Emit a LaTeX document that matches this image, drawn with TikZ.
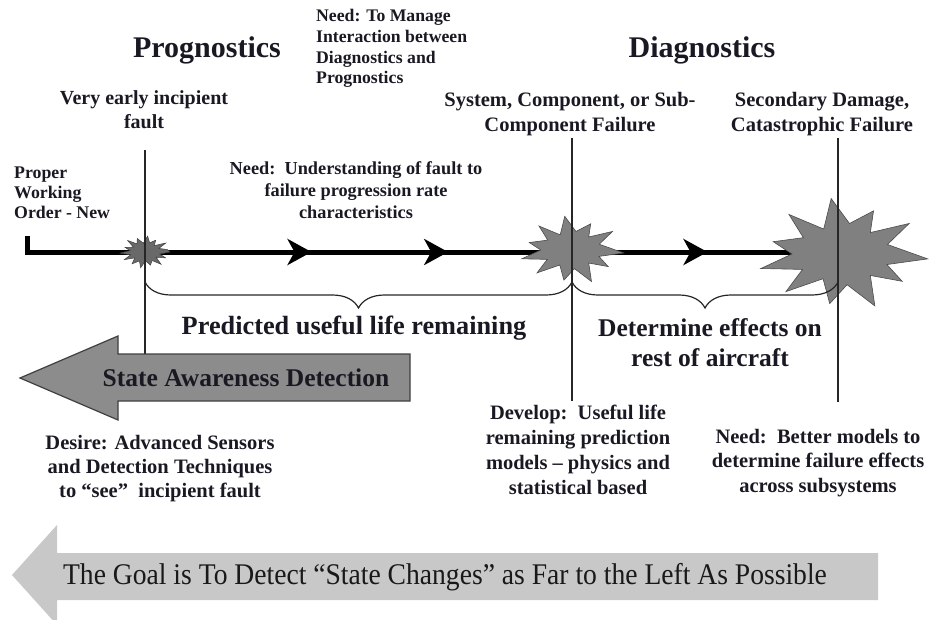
\documentclass[tikz,border=0pt]{standalone}
\usepackage{fontspec}
\setmainfont{Liberation Serif}
\usetikzlibrary{arrows.meta,decorations.pathreplacing,decorations.markings}
\definecolor{stargray}{RGB}{128,128,128}
\definecolor{smallgray}{RGB}{105,105,105}
\definecolor{arrowgray}{RGB}{140,140,140}
\definecolor{goalgray}{RGB}{200,200,200}
\definecolor{txt}{RGB}{25,25,35}
\tikzset{
  burst/.pic={\draw[draw=black!70, line width=0.6pt, fill=stargray, line join=miter]
     (5:1) -- (20:.55) -- (35:.85) -- (50:.5) -- (68:1.0) -- (85:.55) -- (100:.9) -- (118:.5)
     -- (135:.95) -- (150:.55) -- (165:1.0) -- (180:.6) -- (195:.85) -- (212:.55) -- (228:.95)
     -- (243:.5) -- (262:1.0) -- (278:.55) -- (295:.85) -- (310:.5) -- (325:.95) -- (342:.55) -- cycle;},
  spark/.pic={\draw[draw=black!75, line width=0.5pt, fill=smallgray, line join=miter]
     (0:1) -- (12:.6) -- (24:.9) -- (36:.55) -- (50:1.0) -- (62:.6) -- (75:.85) -- (88:.55)
     -- (100:1.0) -- (112:.6) -- (125:.9) -- (138:.55) -- (150:.95) -- (163:.6) -- (176:1.0)
     -- (188:.6) -- (200:.85) -- (213:.55) -- (226:1.0) -- (238:.6) -- (250:.9) -- (263:.55)
     -- (276:1.0) -- (288:.6) -- (300:.85) -- (313:.55) -- (326:1.0) -- (338:.6) -- (350:.9) -- cycle;},
  lbl/.style={font=\bfseries, text=txt, align=center, inner sep=0pt},
  head/.style={lbl, font=\fontsize{30}{34}\selectfont\bfseries},
  mid/.style={lbl, font=\fontsize{25.5}{30}\selectfont\bfseries},
  small/.style={lbl, font=\fontsize{20.5}{24.5}\selectfont\bfseries},
  tiny/.style={lbl, font=\fontsize{17.8}{20.8}\selectfont\bfseries},
  timeline/.style={line width=5pt},
  vline/.style={line width=1.2pt, black!85},
  bracestyle/.style={decorate, decoration={brace, mirror, amplitude=26pt, aspect=0.5}, line width=1.2pt, black!85},
}
\begin{document}
\begin{tikzpicture}[x=1pt,y=-1pt]
\useasboundingbox (0,0) rectangle (933,619);

% key points on the time line
\coordinate (start) at (27,252);
\coordinate (starttop) at (27,236);
\coordinate (s1) at (145,252);
\coordinate (s2) at (572,250);
\coordinate (s3) at (843,254);

% time line
\draw[timeline, line cap=butt] (starttop) -- (start) -- (s1);
\draw[timeline, postaction={decorate}, decoration={markings,
   mark=at position 0.39 with {\arrow{Stealth[length=24pt,width=26pt,inset=7pt]}},
   mark=at position 0.71 with {\arrow{Stealth[length=24pt,width=26pt,inset=7pt]}}}]
   (s1) -- (s2 |- s1);
\draw[timeline, postaction={decorate}, decoration={markings,
   mark=at position 0.5 with {\arrow{Stealth[length=24pt,width=26pt,inset=7pt]}}}]
   (s2 |- s1) -- (s3 |- s1);

% bursts
\pic[xscale=25, yscale=16] at (s1) {spark};
\pic[xscale=52, yscale=34] at (s2) {burst};
\pic[xscale=85, yscale=56] at (s3) {burst};

% vertical lines
\coordinate (v1t) at (145,150); \coordinate (v1b) at (145,360);
\coordinate (v2t) at (572,138); \coordinate (v2b) at (572,401);
\coordinate (v3t) at (838,138); \coordinate (v3b) at (838,402);
\draw[vline] (v1t) -- (v1b);
\draw[vline] (v2t) -- (v2b);
\draw[vline] (v3t) -- (v3b);

% braces
\coordinate (b1a) at (145,282); \coordinate (b1b) at (572,282);
\coordinate (b2a) at (572,282); \coordinate (b2b) at (838,282);
\draw[bracestyle] (b1a) -- (b1b);
\draw[bracestyle] (b2a) -- (b2b);

% state awareness arrow
\draw[draw=black!75, line width=1.2pt, fill=arrowgray, line join=miter]
  (410,354) -- (118,354) -- (118,336) -- (20,378) -- (118,420) -- (118,401) -- (410,401) -- cycle;
\node[mid] (sad) at (246,378) {State Awareness Detection};

% goal arrow
\fill[goalgray] (878,553) -- (57,553) -- (57,525) -- (12,575) -- (57,625) -- (57,600) -- (878,600) -- cycle;
\node[lbl, font=\fontsize{30}{34}\selectfont, text=black!90] (goal) at (445,577)
  {\scalebox{0.92}[1]{The Goal is To Detect “State Changes” as Far to the Left As Possible}};

% headings
\node[head] (prog) at (207,50) {Prognostics};
\node[head] (diag) at (702,50) {Diagnostics};

% labels
\node[tiny, align=left, anchor=north west, font=\fontsize{17.7}{20.8}\selectfont\bfseries] (interact) at (316,9)
  {Need: To Manage\\Interaction between\\Diagnostics and\\Prognostics};
\node[small, font=\fontsize{20}{24}\selectfont\bfseries] (early) at (144,110) {Very early incipient\\fault};
\node[small] (sysfail) at (570,114) {System, Component, or Sub-\\Component Failure};
\node[small] (secdmg) at (822,114) {Secondary Damage,\\Catastrophic Failure};
\node[tiny, align=left, anchor=north west, font=\fontsize{17.8}{20}\selectfont\bfseries] (proper) at (14,167)
  {Proper\\Working\\Order - New};
\node[lbl, font=\fontsize{18.3}{22}\selectfont\bfseries] (underst) at (356,190)
  {Need:\ \ Understanding of fault to\\failure progression rate\\characteristics};
\node[mid, font=\fontsize{26.3}{30}\selectfont\bfseries] (pulr) at (354,328) {Predicted useful life remaining};
\node[mid] (deteff) at (710,343) {Determine effects on\\rest of aircraft};
\node[small, font=\fontsize{20.5}{24}\selectfont\bfseries] (desire) at (160,469)
  {Desire: Advanced Sensors\\and Detection Techniques\\to “see”\ \ incipient fault};
\node[small, font=\fontsize{20.5}{25}\selectfont\bfseries] (develop) at (578,450)
  {Develop:\ \ Useful life\\remaining prediction\\models – physics and\\statistical based};
\node[small, font=\fontsize{20.5}{24.5}\selectfont\bfseries] (better) at (818,463)
  {Need:\ \ Better models to\\determine failure effects\\across subsystems};
\end{tikzpicture}
\end{document}
